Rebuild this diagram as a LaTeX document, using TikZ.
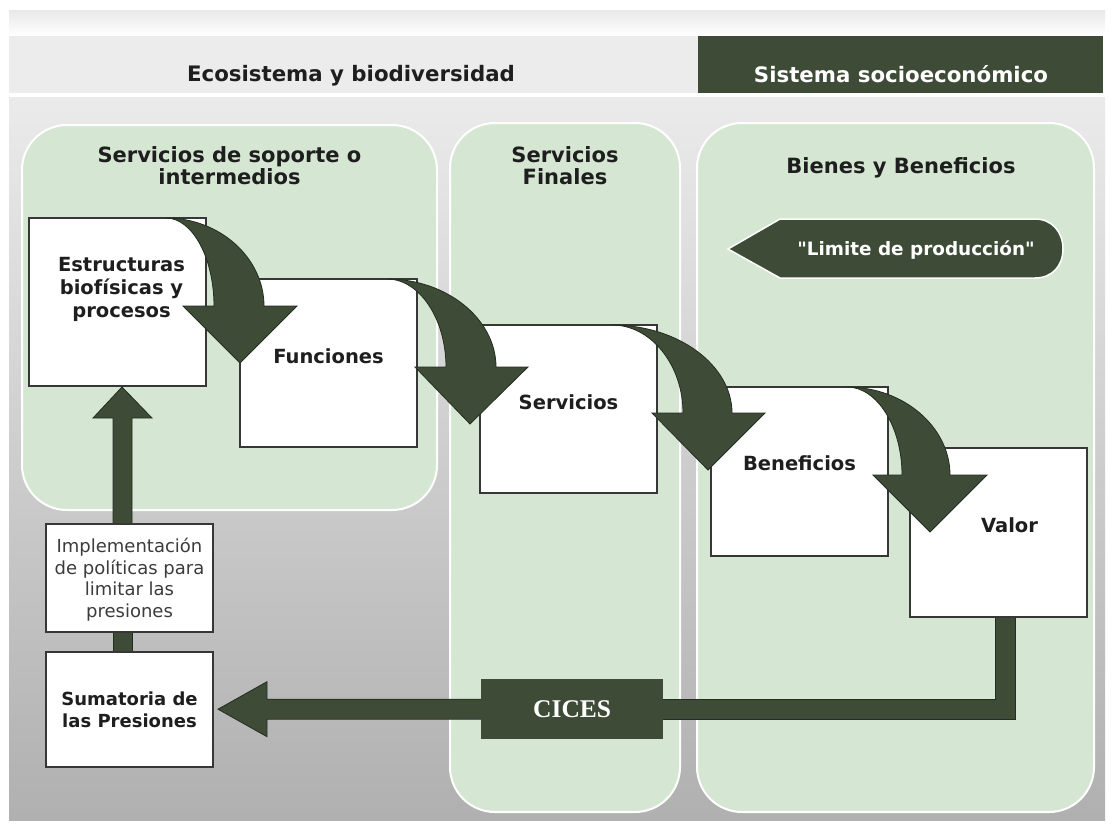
\documentclass[tikz,border=0pt]{standalone}
\usepackage{fontspec}
\setmainfont{DejaVu Sans}
\newfontfamily\limfont{DejaVu Sans}
\newfontfamily\ciceserif{Liberation Serif}
\usetikzlibrary{calc}
\definecolor{dgreen}{RGB}{62,76,55}
\definecolor{dline}{RGB}{35,45,32}
\definecolor{pgreen}{RGB}{213,231,211}
\definecolor{hdrgray}{RGB}{236,236,236}
\definecolor{boxline}{RGB}{55,55,55}
\definecolor{txt}{RGB}{30,30,30}
\definecolor{impltxt}{RGB}{60,60,60}
\pgfdeclarelayer{bg}
\pgfdeclarelayer{conn}
\pgfdeclarelayer{top}
\pgfsetlayers{bg,conn,main,top}
\newcommand{\curvedarrow}[7]{%
  \path[arr] ($(#1.north east)+(#2,0)$)
    .. controls ($(#1.north east)+({#2+0.55*(#4-(#2))},0)$) and ($(#1.north east)+(#4,40)$) .. ($(#1.north east)+(#4,88)$)
    -- ($(#1.north east)+(#6,88)$) -- ($(#1.north east)+(#7,145)$) -- ($(#1.north east)+(#5,88)$)
    -- ($(#1.north east)+(#3,88)$)
    .. controls ($(#1.north east)+(#3,40)$) and ($(#1.north east)+({#2+0.55*(#3-(#2))},0)$) .. cycle;}
\begin{document}
\begin{tikzpicture}[x=1pt,y=-1pt,
  panel/.style={fill=pgreen, draw=white, line width=2pt, rounded corners=45pt},
  wbox/.style={draw=boxline, fill=white, line width=1.3pt, minimum width=177pt, minimum height=168pt, anchor=north west, outer sep=0pt, inner sep=0pt},
  sbox/.style={wbox, minimum width=167pt},
  lbl/.style={font={\bfseries\fontsize{19.5}{23}\selectfont}, text=txt, align=center, anchor=base, inner sep=0pt},
  ptitle/.style={font={\bfseries\fontsize{21}{22}\selectfont}, text=txt, align=center, anchor=base, inner sep=0pt},
  htitle/.style={font={\bfseries\fontsize{21.3}{23}\selectfont}, text=txt, anchor=base, inner sep=0pt},
  arr/.style={fill=dgreen, draw=dline, line width=0.8pt},
]
\useasboundingbox (0,0) rectangle (1111,825);
\begin{pgfonlayer}{bg}
\fill[white] (0,0) rectangle (1111,825);
\shade[top color=black!9, bottom color=white] (9,10) rectangle (1105,35);
\fill[hdrgray] (9,36) rectangle (1103,93);
\shade[top color=black!8, bottom color=black!31] (9,97) rectangle (1105,820);
\path[panel] (22,125) rectangle (437,510);
\path[panel] (450,123) rectangle (680,812);
\path[panel] (697,123) rectangle (1094,812);
\end{pgfonlayer}

% header
\node[htitle] (h1) at (351,81) {Ecosistema y biodiversidad};
\node[fill=dgreen, minimum width=405pt, minimum height=57pt, anchor=north west, inner sep=0pt] (h2box) at (698,36) {};
\node[htitle, text=white] (h2) at (901,82) {Sistema socioeconómico};

% panel titles (anchor = baseline of last line)
\node[ptitle] (p1t) at (229.5,184) {Servicios de soporte o\\intermedios};
\node[ptitle] (p2t) at (565,184) {Servicios\\Finales};
\node[ptitle] (p3t) at (901,173) {Bienes y Beneficios};

% limite de produccion
\path[fill=dgreen, draw=white, line width=1.5pt] (728,249) -- (780,219) -- (1035,219)
  .. controls (1052,219) and (1063,232) .. (1063,249)
  .. controls (1063,266) and (1052,278) .. (1035,278) -- (780,278) -- cycle;
\node[font={\limfont\bfseries\fontsize{18.4}{20}\selectfont}, text=white, anchor=base, inner sep=0pt] (lim) at (916,255) {"Limite de producción"};

% boxes
\node[wbox] (estr) at (29,218) {};
\node[wbox] (func) at (240,279) {};
\node[wbox] (serv) at (480,325) {};
\node[wbox, minimum height=169pt] (bene) at (711,387) {};
\node[wbox, minimum height=169pt] (valor) at (910,448) {};
\node[sbox, minimum height=108pt] (impl) at (46,524) {};
\node[sbox, minimum height=115pt] (suma) at (46,652) {};
\node[fill=dgreen, minimum width=182pt, minimum height=60pt, anchor=north west, inner sep=0pt, text=white,
      font={\ciceserif\bfseries\fontsize{25.5}{27}\selectfont}] (cices) at (481,679) {CICES};

% labels (anchor = baseline of last line)
\node[lbl] (estr-t) at ($(estr.north)+(4,99)$) {Estructuras\\biofísicas y\\procesos};
\node[lbl] (func-t) at ($(func.north)+(0,84)$) {Funciones};
\node[lbl] (serv-t) at ($(serv.north)+(0,84)$) {Servicios};
\node[lbl] (bene-t) at ($(bene.north)+(0,83)$) {Beneficios};
\node[lbl] (valor-t) at ($(valor.north)+(11,84)$) {Valor};
\node[lbl, font={\fontsize{18}{21.5}\selectfont}, text=impltxt] (impl-t) at ($(impl.north)+(0,93)$) {Implementación\\de políticas para\\limitar las\\presiones};
\node[lbl, font={\bfseries\fontsize{18}{22}\selectfont}] (suma-t) at ($(suma.north)+(0,75)$) {Sumatoria de\\las Presiones};

% connectors
\begin{pgfonlayer}{conn}
\draw[line width=21pt, dline] ($(valor.south)+(7,-1)$) |- (cices.east);
\draw[line width=19pt, dgreen] ($(valor.south)+(7,-2)$) |- ($(cices.east)+(-2,0)$);
\path[arr] ($(cices.west)+(1,-10)$) -- ($(suma.east |- cices.west)+(54,-10)$)
  -- ($(suma.east |- cices.west)+(54,-27.5)$) -- ($(suma.east |- cices.west)+(5,0)$)
  -- ($(suma.east |- cices.west)+(54,27.5)$) -- ($(suma.east |- cices.west)+(54,10)$)
  -- ($(cices.west)+(1,10)$) -- cycle;
\path[arr] ($(suma.north)+(-16.5,0)$) rectangle ($(impl.south)+(2.5,0)$);
\path[arr] ($(impl.north)+(-16.5,0)$) -- ($(impl.north)+(-16.5,-106)$) -- ($(impl.north)+(-36.5,-106)$)
  -- ($(impl.north)+(-7.5,-137)$) -- ($(impl.north)+(22.5,-106)$) -- ($(impl.north)+(2.5,-106)$)
  -- ($(impl.north)+(2.5,0)$) -- cycle;
\end{pgfonlayer}

\begin{pgfonlayer}{top}
\curvedarrow{estr}{-40}{8}{58}{-23}{91}{34}
\curvedarrow{func}{-30}{29}{79}{-2}{111}{53}
\curvedarrow{serv}{-45}{26}{75}{-5}{108}{51}
\curvedarrow{bene}{-41}{14}{62}{-15}{99}{42}
\end{pgfonlayer}
\end{tikzpicture}
\end{document}
